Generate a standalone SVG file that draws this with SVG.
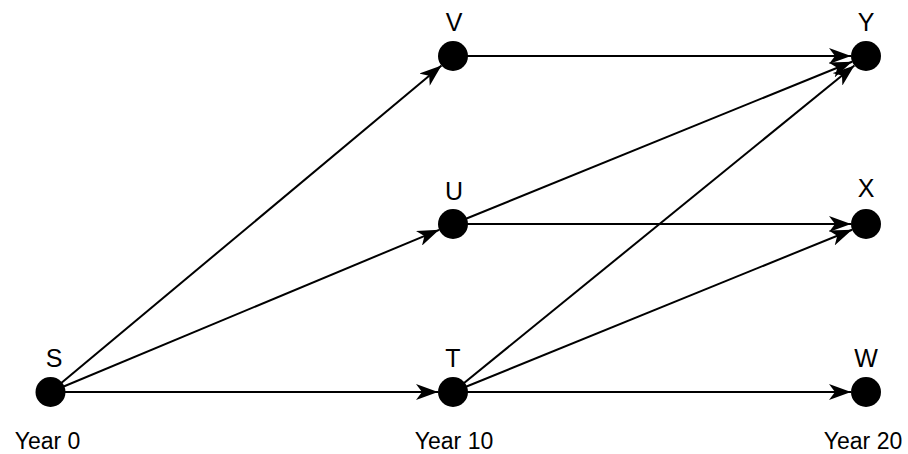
<svg xmlns="http://www.w3.org/2000/svg" width="908" height="454" viewBox="0 0 908 454">
<style>
.edge{stroke:#000;stroke-width:2;fill:none;marker-end:url(#arr)}
.node{fill:#000}
.lbl{font-family:"Liberation Sans",Arial,sans-serif;font-size:25px;fill:#000;text-anchor:middle}
.yr{font-family:"Liberation Sans",Arial,sans-serif;font-size:23px;fill:#000;text-anchor:middle}
</style>
<defs>
<marker id="arr" markerUnits="userSpaceOnUse" markerWidth="22" markerHeight="16" viewBox="0 0 22 16" refX="22" refY="8" orient="auto">
<path d="M0,0 L22,8 L0,16 L6,8 Z" fill="#000"/>
</marker>
</defs>
<rect width="908" height="454" fill="#fff"/>
<g id="connectors">
<line class="edge" x1="50.5" y1="392" x2="441.5" y2="65.6"/>
<line class="edge" x1="50.5" y1="392" x2="439.2" y2="229.8"/>
<line class="edge" x1="50.5" y1="392" x2="438" y2="392"/>
<line class="edge" x1="453" y1="56" x2="851" y2="56"/>
<line class="edge" x1="453" y1="224" x2="852.1" y2="61.7"/>
<line class="edge" x1="453" y1="224" x2="851" y2="224"/>
<line class="edge" x1="453" y1="392" x2="854.4" y2="65.5"/>
<line class="edge" x1="453" y1="392" x2="852.1" y2="229.7"/>
<line class="edge" x1="453" y1="392" x2="851" y2="392"/>
</g>
<g id="S"><circle class="node" cx="50.5" cy="392" r="15"/><text class="lbl" x="54" y="367">S</text></g>
<g id="T"><circle class="node" cx="453" cy="392" r="15"/><text class="lbl" x="453" y="367">T</text></g>
<g id="U"><circle class="node" cx="453" cy="224" r="15"/><text class="lbl" x="454" y="200">U</text></g>
<g id="V"><circle class="node" cx="453" cy="56" r="15"/><text class="lbl" x="454" y="31">V</text></g>
<g id="Y"><circle class="node" cx="866" cy="56" r="15"/><text class="lbl" x="866" y="31">Y</text></g>
<g id="X"><circle class="node" cx="866" cy="224" r="15"/><text class="lbl" x="866" y="197">X</text></g>
<g id="W"><circle class="node" cx="866" cy="392" r="15"/><text class="lbl" x="866" y="367">W</text></g>
<g id="years">
<text class="yr" x="47.5" y="449">Year 0</text>
<text class="yr" x="454" y="449">Year 10</text>
<text class="yr" x="863" y="449">Year 20</text>
</g>
</svg>
